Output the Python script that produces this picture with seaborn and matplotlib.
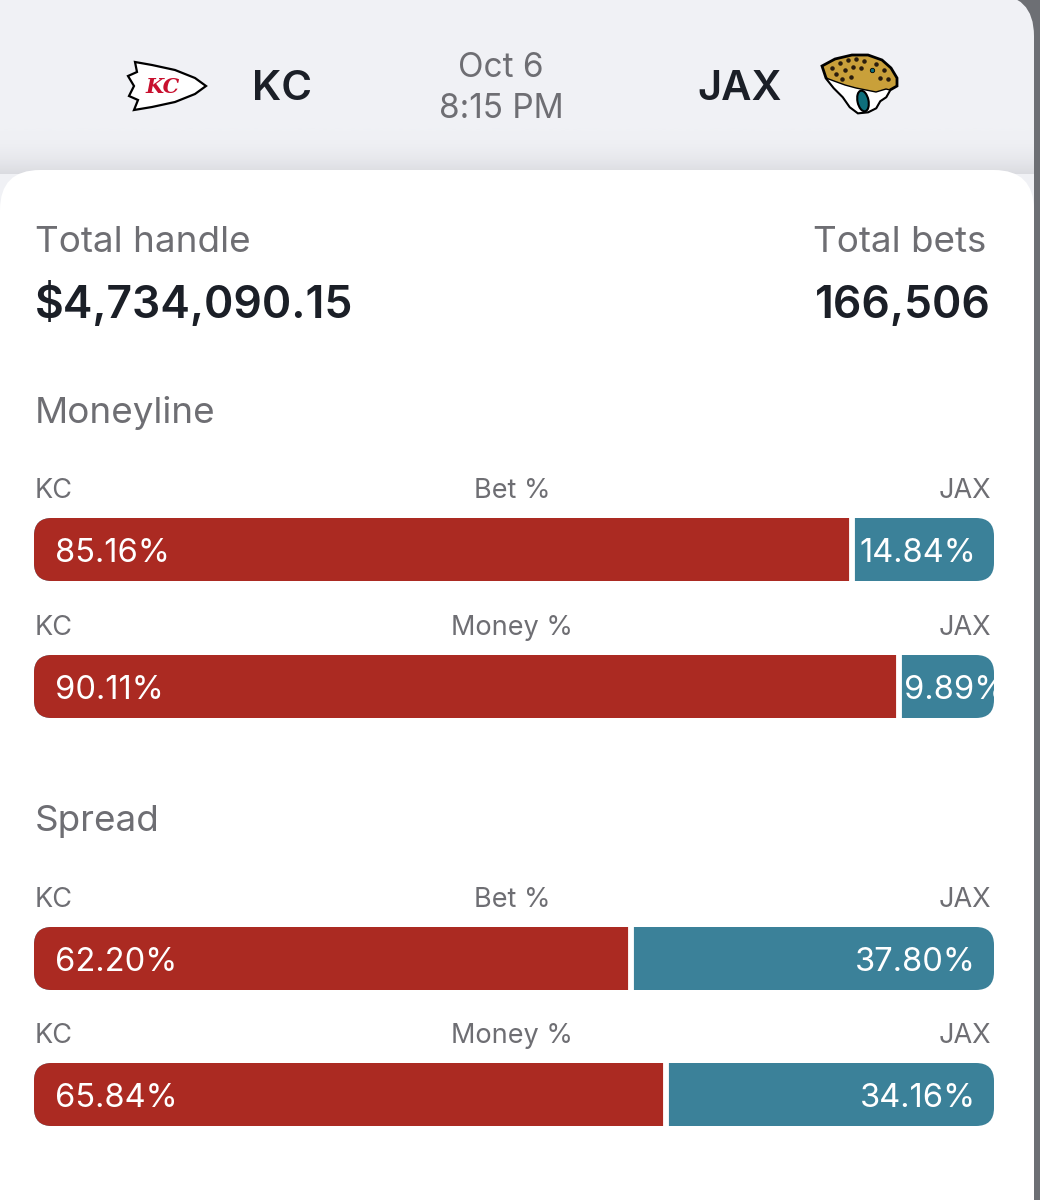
import numpy as np
import pandas as pd
import matplotlib
matplotlib.use("Agg")
import matplotlib.pyplot as plt
import seaborn as sns
from matplotlib.patches import FancyBboxPatch, Polygon, Ellipse
from matplotlib.colors import LinearSegmentedColormap

# Data
away_team = "KC"
home_team = "JAX"
game_date = "Oct 6"
game_time = "8:15 PM"
total_handle = 4734090.15
total_bets = 166506

markets = ["Moneyline", "Moneyline", "Spread", "Spread"]
kinds = ["Bet %", "Money %", "Bet %", "Money %"]
kc_pct = [85.16, 90.11, 62.20, 65.84]
jax_pct = [14.84, 9.89, 37.80, 34.16]

# Colours
RED = "#ab2a22"
BLUE = "#3b8199"
GRAY_TXT = "#6e6e73"
DARK_TXT = "#1b1f27"
HEADER_BG = "#f0f1f5"

sns.set_style("white")
plt.rcParams["font.family"] = ["Inter", "DejaVu Sans"]

W, H = 1040, 1200
fig = plt.figure(figsize=(W / 100, H / 100), dpi=100)
fig.patch.set_facecolor("#6d6f74")

# background axes in pixel coordinates
bg = fig.add_axes([0, 0, 1, 1])
bg.set_xlim(0, W)
bg.set_ylim(H, 0)
bg.axis("off")

# header panel
bg.add_patch(FancyBboxPatch((-100, -6), 1134, 1400, boxstyle="round,pad=0,rounding_size=42",
                            fc=HEADER_BG, ec="none", zorder=0))
# soft shadow above the card
shade = LinearSegmentedColormap.from_list("shade", [HEADER_BG, "#dadbe0"])
grad = (np.linspace(0, 1, 80) ** 2.2).reshape(-1, 1)
bg.imshow(grad, cmap=shade, vmin=0, vmax=1, extent=[0, 1034, 174, 128], aspect="auto",
          interpolation="bilinear", zorder=0.5)
# white card
bg.add_patch(FancyBboxPatch((0, 170), 1034, 1200, boxstyle="round,pad=0,rounding_size=40",
                            fc="white", ec="none", zorder=1))

# KC logo (simplified arrowhead)
arrow = [(135, 62), (152, 65), (175, 70), (195, 78), (206, 86), (195, 94), (175, 102),
         (152, 107), (134, 110), (138, 100), (129, 96), (134, 86), (128, 76), (137, 72)]
bg.add_patch(Polygon(arrow, closed=True, fc="white", ec="black", lw=1.6, zorder=2))
bg.text(163, 87, "KC", color="#c8102e", fontsize=15, fontweight="bold", style="italic",
        family="DejaVu Serif", ha="center", va="center", zorder=3)

# JAX logo (simplified jaguar head)
head = [(822, 66), (835, 59), (852, 55), (868, 55), (882, 60), (891, 68), (897, 78),
        (897, 86), (890, 90), (886, 97), (880, 101), (876, 108), (868, 112), (858, 113),
        (850, 107), (843, 97), (834, 88), (826, 78)]
bg.add_patch(Polygon(head, closed=True, fc="#c9a03a", ec="black", lw=2, zorder=2))
cheek = [(826, 78), (834, 81), (845, 85), (856, 88), (866, 90), (876, 92), (886, 89),
         (890, 90), (886, 97), (880, 101), (876, 108), (868, 112), (858, 113), (850, 107),
         (843, 97), (834, 88)]
bg.add_patch(Polygon(cheek, closed=True, fc="white", ec="black", lw=1, zorder=3))
bg.add_patch(Ellipse((863, 101), 11, 21, angle=-12, fc="#0e6f7c", ec="black", lw=1.5, zorder=4))
bg.scatter([872], [70], s=10, c="#0e6f7c", edgecolors="black", linewidths=0.6, zorder=4)
bg.scatter([832, 840, 848, 856, 864, 876, 884, 836, 845, 853, 861, 842, 851, 880, 888],
           [68, 63, 60, 59, 61, 64, 70, 74, 70, 67, 68, 79, 77, 78, 79],
           s=5, c="#2a1d0e", zorder=4)

# header texts
bg.text(252, 100, away_team, color=DARK_TXT, fontsize=30, fontweight="semibold", va="baseline", zorder=5)
bg.text(697, 100, home_team, color=DARK_TXT, fontsize=30, fontweight="semibold", va="baseline", zorder=5)
bg.text(501, 77, game_date, color=GRAY_TXT, fontsize=24, ha="center", va="baseline", zorder=5)
bg.text(501, 118, game_time, color=GRAY_TXT, fontsize=24, ha="center", va="baseline", zorder=5)

# totals
bg.text(35, 252, "Total handle", color=GRAY_TXT, fontsize=26.5, va="baseline", zorder=5)
bg.text(986, 252, "Total bets", color=GRAY_TXT, fontsize=26.5, ha="right", va="baseline", zorder=5)
bg.text(35, 318, f"${total_handle:,.2f}", color=DARK_TXT, fontsize=32, fontweight="semibold",
        va="baseline", zorder=5)
bg.text(991, 318, f"{total_bets:,}", color=DARK_TXT, fontsize=32, fontweight="semibold",
        ha="right", va="baseline", zorder=5)

# section titles
section_base = {"Moneyline": 423, "Spread": 831}
for name, yb in section_base.items():
    bg.text(35, yb, name, color=GRAY_TXT, fontsize=26.5, va="baseline", zorder=5)

# bar rows
bar_tops = [518, 655, 927, 1063]
bar_left, bar_w, bar_h = 34, 960, 63

for i in range(len(kinds)):
    top = bar_tops[i]
    yb = top - 20
    bg.text(35, yb, away_team, color=GRAY_TXT, fontsize=19.5, va="baseline", zorder=5)
    bg.text(512, yb, kinds[i], color=GRAY_TXT, fontsize=19.5, ha="center", va="baseline", zorder=5)
    bg.text(991, yb, home_team, color=GRAY_TXT, fontsize=19.5, ha="right", va="baseline", zorder=5)

    ax = fig.add_axes([bar_left / W, 1 - (top + bar_h) / H, bar_w / W, bar_h / H])
    df = pd.DataFrame({"row": [0], "kc": [kc_pct[i]], "total": [kc_pct[i] + jax_pct[i]]})
    sns.barplot(data=df, x="total", y="row", orient="h", color=BLUE, saturation=1,
                width=1, linewidth=0, ax=ax)
    sns.barplot(data=df, x="kc", y="row", orient="h", color=RED, saturation=1,
                width=1, linewidth=0, ax=ax)
    ax.axvline(kc_pct[i], color="white", lw=4.2)
    ax.set_xlim(0, 100)
    ax.set_ylim(0.5, -0.5)
    ax.axis("off")

    clip = FancyBboxPatch((bar_left, top), bar_w, bar_h, boxstyle="round,pad=0,rounding_size=18",
                          transform=bg.transData)
    for art in ax.patches + ax.lines:
        art.set_clip_path(clip)

    t1 = ax.annotate(f"{kc_pct[i]:.2f}%", xy=(0, 0), xytext=(21, -12.5), textcoords="offset pixels",
                     color="white", fontsize=23.5, va="baseline", ha="left")
    if jax_pct[i] * bar_w / 100 > 125:
        t2 = ax.annotate(f"{jax_pct[i]:.2f}%", xy=(100, 0), xytext=(-18, -12.5),
                         textcoords="offset pixels", color="white", fontsize=23.5,
                         va="baseline", ha="right")
    else:
        t2 = ax.annotate(f"{jax_pct[i]:.2f}%", xy=(kc_pct[i], 0), xytext=(5, -12.5),
                         textcoords="offset pixels", color="white", fontsize=23.5,
                         va="baseline", ha="left")
    for t in (t1, t2):
        t.set_clip_path(clip)

fig.savefig("out.png", dpi=100, facecolor=fig.get_facecolor())
